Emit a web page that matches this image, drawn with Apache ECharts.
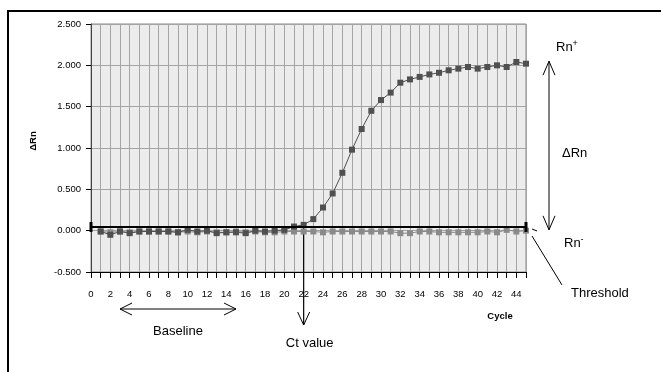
<!DOCTYPE html>
<html><head><meta charset="utf-8">
<script src="https://cdn.jsdelivr.net/npm/echarts@6/dist/echarts.min.js"></script>
<style>html,body{margin:0;padding:0;background:#fff}#c{width:661px;height:372px}</style>
</head><body><div id="c"></div>
<script>
const cycles = [1,2,3,4,5,6,7,8,9,10,11,12,13,14,15,16,17,18,19,20,21,22,23,24,25,26,27,28,29,30,31,32,33,34,35,36,37,38,39,40,41,42,43,44,45];
const sampleRn = [-0.01,-0.05,-0.01,-0.03,-0.01,-0.01,-0.01,-0.01,-0.02,0.01,-0.01,0.00,-0.03,-0.02,-0.02,-0.03,0.00,-0.01,0.00,0.01,0.05,0.07,0.14,0.28,0.45,0.70,0.98,1.23,1.45,1.58,1.67,1.79,1.83,1.86,1.89,1.91,1.94,1.96,1.98,1.96,1.98,2.00,1.98,2.04,2.02];
const ntcRn = [-0.01,-0.02,-0.01,-0.02,-0.01,-0.01,-0.01,-0.01,-0.02,-0.01,-0.02,-0.01,-0.02,-0.02,-0.01,-0.02,-0.01,-0.02,-0.02,-0.01,-0.01,-0.01,-0.01,-0.02,-0.01,-0.01,-0.01,-0.01,-0.01,-0.01,-0.01,-0.03,-0.03,-0.01,-0.01,-0.02,-0.02,-0.02,-0.02,-0.02,-0.01,-0.02,0.01,-0.01,0.00];
const threshold = 0.045;
const ctCycle = 22;
const baselineRange = [3, 15];
const rnPlus = 2.05, rnMinus = 0.01;
const xRange = [0, 45];
const yRange = [-0.5, 2.5];

const font = 'Liberation Sans, Arial, sans-serif';
const chart = echarts.init(document.getElementById('c'), null, {renderer:'canvas'});
const option = {
  animation:false,
  backgroundColor:'#fff',
  grid:{left:91,right:135,top:24,bottom:100,show:true,backgroundColor:'#ececec',borderColor:'#8a8a8a',borderWidth:1},
  xAxis:{type:'value',min:xRange[0],max:xRange[1],interval:1,
    axisLine:{onZero:false,lineStyle:{color:'#000',width:1}},
    axisTick:{show:true,length:6,lineStyle:{color:'#000'}},
    axisLabel:{color:'#000',fontFamily:font,fontSize:9.5,margin:17,formatter:v=>(v%2===0&&v<45)?String(v):''},
    splitLine:{show:true,lineStyle:{color:'#a4a4a4',width:1}}},
  yAxis:{type:'value',min:yRange[0],max:yRange[1],interval:0.5,
    axisLine:{show:true,lineStyle:{color:'#444',width:1}},
    axisTick:{show:true,length:5,lineStyle:{color:'#000'}},
    axisLabel:{color:'#000',fontFamily:font,fontSize:9.5,margin:10,formatter:v=>v.toFixed(3)},
    splitLine:{show:true,lineStyle:{color:'#a4a4a4',width:1}}},
  series:[
    {type:'line',data:cycles.map((c,i)=>[c,ntcRn[i]]),symbol:'rect',symbolSize:6,
      itemStyle:{color:'#8a8a8a'},lineStyle:{color:'#8a8a8a',width:1},z:3},
    {type:'line',data:cycles.map((c,i)=>[c,sampleRn[i]]),symbol:'rect',symbolSize:6,
      itemStyle:{color:'#505050'},lineStyle:{color:'#505050',width:1},z:4},
    {type:'line',data:[[xRange[0],threshold],[xRange[1],threshold]],symbol:'rect',symbolSize:[3,10],
      itemStyle:{color:'#000'},lineStyle:{color:'#000',width:2},z:5,clip:false}
  ]
};
chart.setOption(option);

const P = (x,y)=>chart.convertToPixel({gridIndex:0},[x,y]);
const ln = (pts,w)=>({type:'polyline',shape:{points:pts},style:{stroke:'#000',lineWidth:w||1,fill:null},silent:true});
const txt = (x,y,t,extra)=>({type:'text',x:x,y:y,style:Object.assign({text:t,fill:'#000',font:'13px '+font,textVerticalAlign:'middle'},extra||{})});

const thrPx = P(ctCycle, threshold);
const ctTip = [thrPx[0], 325];
const b0 = P(baselineRange[0], 0), b1 = P(baselineRange[1], 0);
const by = 309;
const up = P(0, rnPlus), dn = P(0, rnMinus);
const ax = 549;
const g = [
  {type:'rect',shape:{x:8,y:11,width:700,height:420},style:{stroke:'#000',lineWidth:2,fill:null},silent:true},
  ln([[thrPx[0],thrPx[1]],ctTip],1.2),
  ln([[ctTip[0]-6,ctTip[1]-13],ctTip,[ctTip[0]+6,ctTip[1]-13]],1),
  ln([[b0[0],by],[b1[0],by]],1),
  ln([[b0[0]+12,by-6],[b0[0],by],[b0[0]+12,by+6]],1),
  ln([[b1[0]-12,by-6],[b1[0],by],[b1[0]-12,by+6]],1),
  ln([[ax,up[1]],[ax,dn[1]]],1),
  ln([[ax-6,up[1]+14],[ax,up[1]],[ax+6,up[1]+14]],1),
  ln([[ax-6,dn[1]-14],[ax,dn[1]],[ax+6,dn[1]-14]],1),
  ln([[532,229],[537,231]],1),
  ln([[532,236],[562,285]],1),
  {type:'text',x:556,y:47,style:{rich:{a:{fontSize:13,fontFamily:font,fill:'#000'},s:{fontSize:9,fontFamily:font,fill:'#000',padding:[0,0,6,0]}},text:'{a|Rn}{s|+}',textVerticalAlign:'middle'}},
  txt(562,153,'ΔRn'),
  {type:'text',x:564,y:243,style:{rich:{a:{fontSize:13,fontFamily:font,fill:'#000'},s:{fontSize:9,fontFamily:font,fill:'#000',padding:[0,0,6,0]}},text:'{a|Rn}{s|-}',textVerticalAlign:'middle'}},
  txt(571,293,'Threshold'),
  txt((b0[0]+b1[0])/2,331,'Baseline',{textAlign:'center'}),
  txt(ctTip[0]+6,343,'Ct value',{textAlign:'center'}),
  txt(500,316,'Cycle',{textAlign:'center',font:'bold 9.5px '+font}),
  {type:'text',x:33,y:141,rotation:Math.PI/2,style:{text:'ΔRn',fill:'#000',font:'bold 9.5px '+font,textAlign:'center',textVerticalAlign:'middle'}}
];
chart.setOption({graphic:g});
</script></body></html>
